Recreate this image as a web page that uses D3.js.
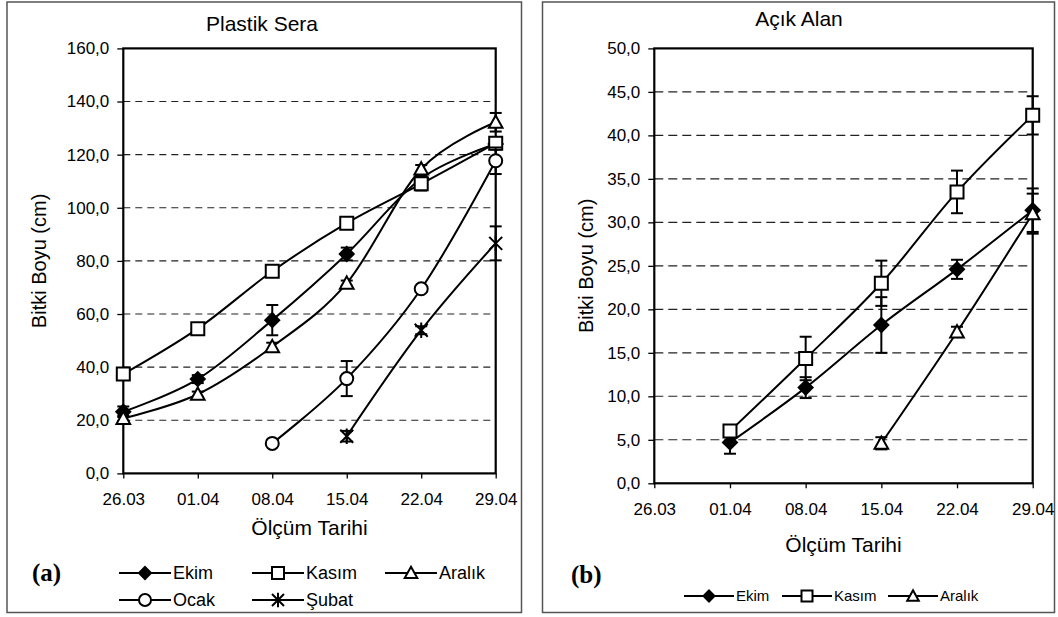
<!DOCTYPE html>
<html>
<head>
<meta charset="utf-8">
<script src="https://cdn.jsdelivr.net/npm/d3@7"></script>
<style>
  html, body { margin: 0; padding: 0; background: #fff; }
  svg { display: block; }
  text { fill: #000; }
</style>
</head>
<body>
<svg id="chart" width="1058" height="617" font-family="Liberation Sans, Arial, sans-serif"></svg>
<script>
// ---------- DATA ----------
const dates = ["26.03", "01.04", "08.04", "15.04", "22.04", "29.04"];

// Panel (a) Plastik Sera
const ekimA     = [23.2, 35.5, 57.7, 82.6, 111.0, 124.0];
const ekimAErr  = [2.0, 1.5, 5.7, 2.4, 1.5, 2.0];
const kasimA    = [37.4, 54.5, 76.1, 94.2, 109.0, 124.3];
const kasimAErr = [1.5, 1.0, 1.0, 2.2, 2.5, 2.0];
const aralikA   = [20.7, 29.8, 47.7, 71.6, 114.6, 132.2];
const aralikAErr= [1.0, 1.0, 1.5, 1.0, 1.5, 3.5];
const ocakA     = [null, null, 11.3, 35.7, 69.5, 117.7];
const ocakAErr  = [null, null, 1.0, 6.6, 1.0, 5.0];
const subatA    = [null, null, null, 14.0, 53.9, 86.6];
const subatAErr = [null, null, null, 2.0, 1.5, 6.4];

// Panel (b) Açık Alan
const ekimB     = [null, 4.7, 11.0, 18.2, 24.6, 31.4];
const ekimBErr  = [null, 1.3, 1.2, 3.2, 1.1, 2.5];
const kasimB    = [null, 6.0, 14.35, 23.0, 33.5, 42.3];
const kasimBErr = [null, 0.5, 2.5, 2.6, 2.45, 2.2];
const aralikB   = [null, null, null, 4.6, 17.4, 31.0];
const aralikBErr= [null, null, null, 0.7, 0.6, 2.3];

const yTicksA = [0, 20, 40, 60, 80, 100, 120, 140, 160];
const yTicksB = [0, 5, 10, 15, 20, 25, 30, 35, 40, 45, 50];

const seriesNames = ["Ekim", "Kasım", "Aralık", "Ocak", "Şubat"];
const markerTypes = ["diamond", "square", "triangle", "circle", "star"];

// ---------- HELPERS ----------
const svg = d3.select("#chart");
const SANS = "Liberation Sans, Arial, sans-serif";
const SERIF = "Liberation Serif, Times New Roman, serif";
const fmt = v => d3.format(".1f")(v).replace(".", ",");

function markerPath(type, s) {
  switch (type) {
    case "diamond": return `M0,${-s}L${s},0L0,${s}L${-s},0Z`;
    case "square": return `M${-s},${-s}H${s}V${s}H${-s}Z`;
    case "triangle": return `M0,${-s * 1.05}L${s * 1.05},${s * 0.85}L${-s * 1.05},${s * 0.85}Z`;
    case "circle": return d3.arc()({innerRadius: 0, outerRadius: s, startAngle: 0, endAngle: 2 * Math.PI});
    case "star": return `M${-s},${-s}L${s},${s}M${-s},${s}L${s},${-s}M0,${-s * 1.2}L0,${s * 1.2}`;
  }
}
function drawMarker(g, type, x, y, s) {
  g.append("path")
    .attr("d", markerPath(type, s))
    .attr("transform", `translate(${x},${y})`)
    .attr("fill", type === "diamond" ? "#000" : (type === "star" ? "none" : "#fff"))
    .attr("stroke", "#000")
    .attr("stroke-width", 2);
}

function panel(cfg) {
  const g = svg.append("g");
  // outer frame
  g.append("rect").attr("x", cfg.frame[0]).attr("y", cfg.frame[1])
    .attr("width", cfg.frame[2]).attr("height", cfg.frame[3])
    .attr("fill", "#fff").attr("stroke", "#555").attr("stroke-width", 1.5);

  const x = d3.scalePoint().domain(dates).range([cfg.x0, cfg.x1]).padding(0);
  const y = d3.scaleLinear().domain([0, cfg.yMax]).range([cfg.yZero, cfg.yTop]);

  // gridlines
  g.append("g").selectAll("line")
    .data(cfg.yTicks.filter(t => t > 0 && t < cfg.yMax))
    .join("line")
    .attr("x1", cfg.x0).attr("x2", cfg.x1)
    .attr("y1", d => y(d)).attr("y2", d => y(d))
    .attr("stroke", "#222").attr("stroke-width", 1.1)
    .attr("stroke-dasharray", cfg.dash);

  // y axis
  const ya = g.append("g").attr("transform", `translate(${cfg.x0},0)`)
    .call(d3.axisLeft(y).tickValues(cfg.yTicks).tickFormat(fmt).tickSize(6).tickPadding(8));
  ya.select(".domain").remove();
  ya.attr("font-family", SANS);
  ya.selectAll(".tick line").attr("stroke", "#000").attr("stroke-width", 1.3);
  ya.selectAll(".tick text").attr("font-size", 17).attr("fill", "#000");

  // x axis
  const xa = g.append("g").attr("transform", `translate(0,${cfg.yZero})`)
    .call(d3.axisBottom(x).tickSize(5).tickPadding(15));
  xa.select(".domain").remove();
  xa.attr("font-family", SANS);
  xa.selectAll(".tick line").attr("stroke", "#000").attr("stroke-width", 1.3);
  xa.selectAll(".tick text").attr("font-size", 17).attr("fill", "#000");

  // plot border
  g.append("rect").attr("x", cfg.x0).attr("y", cfg.yTop)
    .attr("width", cfg.x1 - cfg.x0).attr("height", cfg.yZero - cfg.yTop)
    .attr("fill", "none").attr("stroke", "#000").attr("stroke-width", 2.2);

  // series
  const line = d3.line()
    .defined(d => d.v != null)
    .x(d => x(d.date)).y(d => y(d.v))
    .curve(d3.curveCardinal.tension(0));

  cfg.series.forEach(s => {
    const pts = dates.map((d, i) => ({date: d, v: s.values[i], e: s.err[i]}));
    g.append("path").datum(pts)
      .attr("d", line).attr("fill", "none")
      .attr("stroke", "#000").attr("stroke-width", 2);
  });
  cfg.series.forEach(s => {
    const pts = dates.map((d, i) => ({date: d, v: s.values[i], e: s.err[i]})).filter(p => p.v != null);
    const eg = g.append("g").attr("stroke", "#000").attr("stroke-width", 2);
    pts.forEach(p => {
      const xx = x(p.date), yt = y(p.v + p.e), yb = y(p.v - p.e);
      eg.append("line").attr("x1", xx).attr("x2", xx).attr("y1", yt).attr("y2", yb);
      eg.append("line").attr("x1", xx - 6).attr("x2", xx + 6).attr("y1", yt).attr("y2", yt);
      eg.append("line").attr("x1", xx - 6).attr("x2", xx + 6).attr("y1", yb).attr("y2", yb);
    });
    pts.forEach(p => drawMarker(g, s.marker, x(p.date), y(p.v), s.marker === "diamond" ? 7 : 6.5));
  });

  // title
  g.append("text").attr("x", cfg.title[1]).attr("y", cfg.title[2])
    .attr("text-anchor", "middle").attr("font-size", 21).text(cfg.title[0]);
  // axis titles
  g.append("text").attr("x", (cfg.x0 + cfg.x1) / 2).attr("y", cfg.xTitleY)
    .attr("text-anchor", "middle").attr("font-size", 21).text("Ölçüm Tarihi");
  g.append("text").attr("transform", `translate(${cfg.yTitleX},${(cfg.yTop + cfg.yZero) / 2}) rotate(-90)`)
    .attr("text-anchor", "middle").attr("font-size", 20).text("Bitki Boyu (cm)");
  // panel letter
  g.append("text").attr("x", cfg.letter[1]).attr("y", cfg.letter[2])
    .style("font-family", SERIF)
    .style("font-weight", "bold").attr("font-size", 25).text(cfg.letter[0]);

  // legend
  const lg = g.append("g");
  cfg.legend.forEach(it => {
    lg.append("line").attr("x1", it.x - cfg.legHalf).attr("x2", it.x + cfg.legHalf)
      .attr("y1", it.y).attr("y2", it.y).attr("stroke", "#000").attr("stroke-width", 2);
    drawMarker(lg, it.marker, it.x, it.y, cfg.legMarker);
    lg.append("text").attr("x", it.x + cfg.legHalf + 2).attr("y", it.y)
      .attr("dy", "0.36em").attr("font-size", cfg.legFont).text(it.name);
  });
}

// ---------- PANEL (a) ----------
panel({
  frame: [7, 2, 514.5, 610.5],
  x0: 123.3, x1: 495.7, yTop: 48.4, yZero: 473.4, yMax: 160,
  yTicks: yTicksA, dash: "7,5",
  title: ["Plastik Sera", 262, 31],
  xTitleY: 535, yTitleX: 46,
  letter: ["(a)", 32, 581],
  legHalf: 26, legMarker: 6, legFont: 18,
  legend: [
    {name: seriesNames[0], marker: markerTypes[0], x: 145, y: 573},
    {name: seriesNames[1], marker: markerTypes[1], x: 278, y: 573},
    {name: seriesNames[2], marker: markerTypes[2], x: 411, y: 573},
    {name: seriesNames[3], marker: markerTypes[3], x: 145, y: 600},
    {name: seriesNames[4], marker: markerTypes[4], x: 278, y: 600}
  ],
  series: [
    {values: ekimA, err: ekimAErr, marker: "diamond"},
    {values: kasimA, err: kasimAErr, marker: "square"},
    {values: aralikA, err: aralikAErr, marker: "triangle"},
    {values: ocakA, err: ocakAErr, marker: "circle"},
    {values: subatA, err: subatAErr, marker: "star"}
  ]
});

// ---------- PANEL (b) ----------
panel({
  frame: [542.5, 2, 512, 610.5],
  x0: 654.3, x1: 1032.7, yTop: 48.4, yZero: 483.3, yMax: 50,
  yTicks: yTicksB, dash: "9,5",
  title: ["Açık Alan", 799, 26],
  xTitleY: 552, yTitleX: 593,
  letter: ["(b)", 571, 583],
  legHalf: 25, legMarker: 5.5, legFont: 15,
  legend: [
    {name: seriesNames[0], marker: markerTypes[0], x: 709, y: 596},
    {name: seriesNames[1], marker: markerTypes[1], x: 807, y: 596},
    {name: seriesNames[2], marker: markerTypes[2], x: 913, y: 596}
  ],
  series: [
    {values: ekimB, err: ekimBErr, marker: "diamond"},
    {values: kasimB, err: kasimBErr, marker: "square"},
    {values: aralikB, err: aralikBErr, marker: "triangle"}
  ]
});
</script>
</body>
</html>
